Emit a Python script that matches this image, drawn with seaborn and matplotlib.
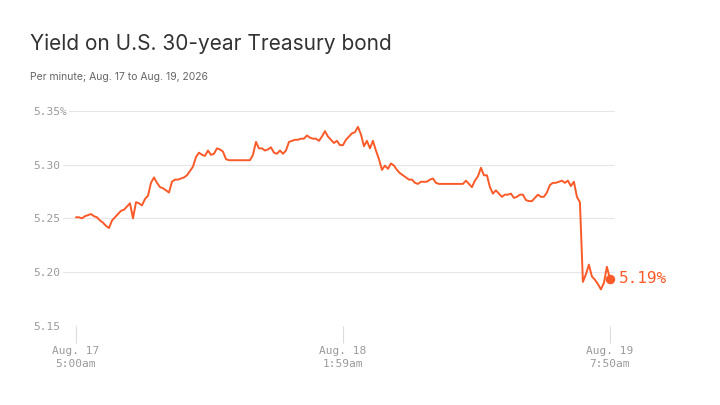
import pandas as pd
import matplotlib.pyplot as plt
import seaborn as sns

# 30年期美债收益率（每分钟）
yield_pct = [
    5.251, 5.251, 5.250, 5.252, 5.253, 5.254, 5.252, 5.251, 5.248, 5.246,
    5.243, 5.241, 5.248, 5.251, 5.254, 5.257, 5.258, 5.261, 5.264, 5.250,
    5.265, 5.264, 5.262, 5.268, 5.271, 5.283, 5.288, 5.283, 5.279, 5.278,
    5.276, 5.274, 5.284, 5.286, 5.286, 5.287, 5.288, 5.290, 5.294, 5.298,
    5.307, 5.311, 5.309, 5.308, 5.313, 5.309, 5.310, 5.315, 5.314, 5.312,
    5.305, 5.304, 5.304, 5.304, 5.304, 5.304, 5.304, 5.304, 5.304, 5.309,
    5.321, 5.315, 5.315, 5.313, 5.314, 5.316, 5.311, 5.310, 5.313, 5.310,
    5.313, 5.321, 5.322, 5.323, 5.323, 5.324, 5.324, 5.327, 5.325, 5.324,
    5.324, 5.322, 5.326, 5.331, 5.326, 5.323, 5.320, 5.322, 5.318, 5.318,
    5.323, 5.326, 5.329, 5.330, 5.335, 5.328, 5.317, 5.322, 5.315, 5.322,
    5.313, 5.305, 5.295, 5.299, 5.296, 5.301, 5.299, 5.295, 5.292, 5.290,
    5.288, 5.286, 5.286, 5.283, 5.282, 5.284, 5.284, 5.284, 5.286, 5.287,
    5.283, 5.282, 5.282, 5.282, 5.282, 5.282, 5.282, 5.282, 5.282, 5.282,
    5.285, 5.282, 5.279, 5.285, 5.289, 5.297, 5.290, 5.290, 5.279, 5.273,
    5.276, 5.273, 5.270, 5.272, 5.272, 5.273, 5.269, 5.270, 5.272, 5.272,
    5.267, 5.266, 5.266, 5.269, 5.272, 5.270, 5.270, 5.274, 5.281, 5.283,
    5.283, 5.284, 5.285, 5.283, 5.285, 5.280, 5.284, 5.270, 5.265, 5.191,
    5.198, 5.207, 5.196, 5.193, 5.189, 5.184, 5.190, 5.205, 5.194,
]
minute_idx = list(range(len(yield_pct)))

tick_idx = [0, 89, len(yield_pct) - 1]
tick_labels = ['Aug. 17\n5:00am', 'Aug. 18\n1:59am', 'Aug. 19\n7:50am']
y_ticks = [5.15, 5.20, 5.25, 5.30, 5.35]
y_labels = ['5.15', '5.20', '5.25', '5.30', '5.35%']

df = pd.DataFrame({'idx': minute_idx, 'yield': yield_pct})

sns.set_theme(style='white')
plt.rcParams['font.family'] = ['Inter', 'DejaVu Sans']

orange = '#fa5a28'
mono = 'DejaVu Sans Mono'

fig = plt.figure(figsize=(7.2, 4.05), dpi=100)
ax = fig.add_axes([61 / 720, 1 - 326 / 405, (615 - 61) / 720, (326 - 110.7) / 405])

sns.lineplot(data=df, x='idx', y='yield', ax=ax, color=orange, linewidth=1.4)
ax.plot(minute_idx[-1], yield_pct[-1], 'o', color=orange, markersize=5.8, clip_on=False)
ax.annotate(f'{yield_pct[-1]:.2f}%', (minute_idx[-1], yield_pct[-1]),
            xytext=(6.5, 0), textcoords='offset points', va='center', ha='left',
            color=orange, fontsize=11.5, family=mono, annotation_clip=False)

ax.set_xlim(-5, 179.7)
ax.set_ylim(5.15, 5.35)
ax.set_xlabel('')
ax.set_ylabel('')
for s in ax.spines.values():
    s.set_visible(False)

ax.set_yticks(y_ticks)
ax.set_yticklabels(y_labels, family=mono, fontsize=8, color='#9a9a9a', ha='left')
for t in ax.get_yticklabels():
    t.set_bbox(dict(facecolor='white', edgecolor='none', pad=1.5))
ax.tick_params(axis='y', length=0, pad=19.8)
ax.grid(axis='y', color='#e6e6e6', linewidth=0.8)
ax.set_axisbelow(True)

ax.set_xticks(tick_idx)
ax.set_xticklabels(tick_labels, family=mono, fontsize=8, color='#9a9a9a', linespacing=1.4)
ax.tick_params(axis='x', bottom=True, length=12.2, width=0.8, color='#dddddd', pad=2)

fig.text(30 / 720, 1 - 43.3 / 405, 'Yield on U.S. 30-year Treasury bond',
         fontsize=15, color='#333333', va='center', ha='left')
fig.text(30 / 720, 1 - 76.7 / 405, 'Per minute; Aug. 17 to Aug. 19, 2026',
         fontsize=7.5, color='#666666', va='center', ha='left')

plt.savefig('out.png', dpi=100)
